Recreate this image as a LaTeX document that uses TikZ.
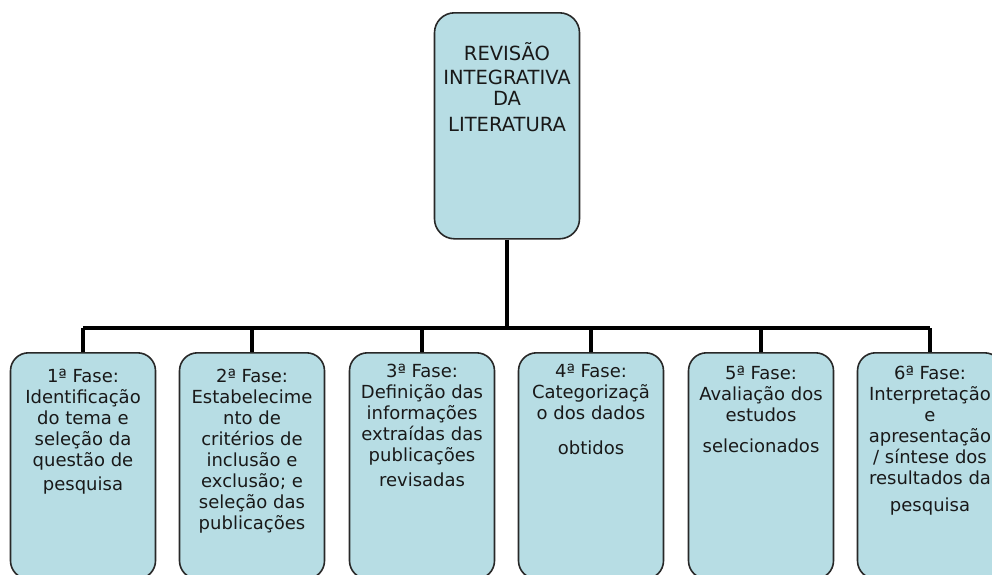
\documentclass[tikz,border=0pt]{standalone}
\usepackage{fontspec}
\setmainfont{DejaVu Sans}
\definecolor{boxfill}{RGB}{183,221,228}
\definecolor{boxline}{RGB}{40,40,40}
\definecolor{txt}{RGB}{25,25,25}
\begin{document}
\begin{tikzpicture}[x=1pt,y=-1pt,
  phase/.style={draw=boxline,line width=1.6pt,fill=boxfill,rounded corners=18pt,minimum width=145pt,minimum height=226pt,anchor=north,inner sep=0pt},
  ptext/.style={anchor=north,align=center,inner sep=0pt,text=txt,font=\fontsize{18}{21}\selectfont},
  conn/.style={line width=3.5pt,black}]
\useasboundingbox (0,0) rectangle (992,574);
\fill[white] (0,0) rectangle (992,574);
% top box
\node[phase,minimum width=145pt,minimum height=226pt,rounded corners=20pt] (top) at (507,12) {};
\node[ptext,font=\fontsize{19.5}{24}\selectfont] (toptext) at (507,42) {REVISÃO\\INTEGRATIVA\\[-3pt]DA\\[2pt]LITERATURA};
% bus
\coordinate (bus) at (507,328);
\coordinate (b1) at (83,328);
\coordinate (b6) at (930,328);
% phases
\node[phase] (p1) at (83,352) {};
\node[phase] (p2) at (252,352) {};
\node[phase] (p3) at (422,352) {};
\node[phase] (p4) at (591,352) {};
\node[phase] (p5) at (761,352) {};
\node[phase] (p6) at (930,352) {};
\node[ptext] (t1) at (p1.north |- 0,369) {1ª Fase:\\Identificação\\do tema e\\seleção da\\questão de\\[3pt]pesquisa};
\node[ptext] (t2) at (p2.north |- 0,369) {2ª Fase:\\Estabelecime\\nto de\\critérios de\\inclusão e\\exclusão; e\\seleção das\\publicações};
\node[ptext] (t3) at (p3.north |- 0,364) {3ª Fase:\\Definição das\\informações\\extraídas das\\publicações\\[4pt]revisadas};
\node[ptext] (t4) at (p4.north |- 0,364) {4ª Fase:\\Categorizaçã\\o dos dados\\[14pt]obtidos};
\node[ptext] (t5) at (p5.north |- 0,366) {5ª Fase:\\Avaliação dos\\estudos\\[10pt]selecionados};
\node[ptext] (t6) at (p6.north |- 0,366) {6ª Fase:\\Interpretação\\e\\apresentação\\/ síntese dos\\resultados da\\[6pt]pesquisa};
% connectors
\draw[conn] (top.south) -- (bus);
\draw[conn] (b1) -- (b6);
\foreach \p in {p1,p2,p3,p4,p5,p6}{
  \draw[conn] (\p.north |- bus) -- (\p.north);
}
\end{tikzpicture}
\end{document}
